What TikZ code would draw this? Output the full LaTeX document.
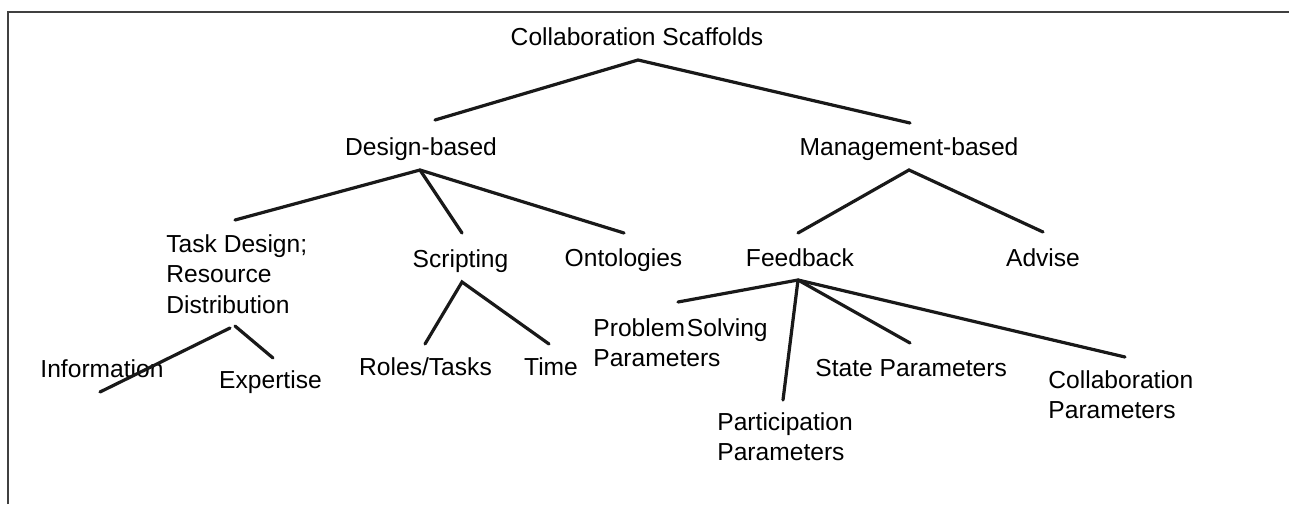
\documentclass[tikz,border=0pt]{standalone}
\usepackage{fontspec}
\setmainfont{Liberation Sans}
\begin{document}
\begin{tikzpicture}[x=0.5pt,y=-0.5pt,
  lbl/.style={font=\fontsize{12.3}{15}\selectfont, inner sep=0pt, anchor=base},
  mlbl/.style={font=\fontsize{12.3}{15.2}\selectfont, inner sep=0pt, anchor=north west, align=left},
  edge/.style={line width=1.6pt, line cap=round, black!90}]
\useasboundingbox (0,0) rectangle (1289,504);
\draw[line width=1pt, black!75] (8,504) -- (8,12) -- (1289,12);
% labels
\node[lbl] (cs) at (637,45) {Collaboration Scaffolds};
\node[lbl] (db) at (421,155) {Design-based};
\node[lbl] (mb) at (909,155) {Management-based};
\node[mlbl] (td) at (166,234) {Task Design;\\Resource\\Distribution};
\node[lbl] (sc) at (460.5,267) {Scripting};
\node[lbl] (on) at (623.5,266) {Ontologies};
\node[lbl] (fb) at (800,266) {Feedback};
\node[lbl] (ad) at (1043,266) {Advise};
\node[lbl] (inf) at (102,377) {Information};
\node[lbl] (ex) at (270.5,388) {Expertise};
\node[lbl] (rt) at (425.5,375) {Roles/Tasks};
\node[lbl] (ti) at (551,375) {Time};
\node[mlbl] (ps) at (593,318) {Problem\kern1pt Solving\\Parameters};
\node[mlbl] (pp) at (717,412) {Participation\\Parameters};
\node[lbl, anchor=base west] (sp) at (815,376) {State Parameters};
\node[mlbl] (cp) at (1048,370) {Collaboration\\Parameters};
% junction and end points
\coordinate (cs-j) at (638,60);
\coordinate (db-in) at (435,120);
\coordinate (mb-in) at (910,123);
\coordinate (db-j) at (420,170);
\coordinate (td-in) at (235,220);
\coordinate (sc-in) at (462,233);
\coordinate (on-in) at (624,233);
\coordinate (mb-j) at (909,170);
\coordinate (fb-in) at (798,233);
\coordinate (ad-in) at (1043,232);
\coordinate (td-j1) at (230,328);
\coordinate (td-j2) at (235,326);
\coordinate (inf-in) at (100,392);
\coordinate (ex-in) at (273,358);
\coordinate (sc-j) at (462,282);
\coordinate (rt-in) at (425,344);
\coordinate (ti-in) at (549,344);
\coordinate (fb-j) at (798,280);
\coordinate (ps-in) at (678,302);
\coordinate (pp-in) at (783,400);
\coordinate (sp-in) at (910,343);
\coordinate (cp-in) at (1125,357);
% connectors
\draw[edge] (db-in) -- (cs-j) -- (mb-in);
\draw[edge] (td-in) -- (db-j) -- (on-in);
\draw[edge] (db-j) -- (sc-in);
\draw[edge] (fb-in) -- (mb-j) -- (ad-in);
\draw[edge] (inf-in) -- (td-j1);
\draw[edge] (td-j2) -- (ex-in);
\draw[edge] (rt-in) -- (sc-j) -- (ti-in);
\draw[edge] (ps-in) -- (fb-j) -- (cp-in);
\draw[edge] (fb-j) -- (pp-in);
\draw[edge] (fb-j) -- (sp-in);
\end{tikzpicture}
\end{document}
